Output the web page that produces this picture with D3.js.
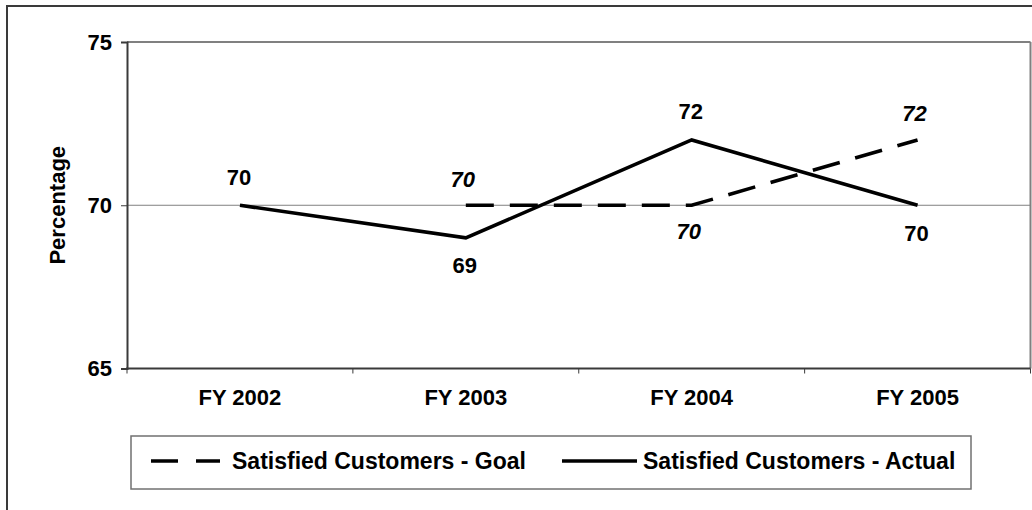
<!DOCTYPE html>
<html>
<head>
<meta charset="utf-8">
<script src="https://cdn.jsdelivr.net/npm/d3@7"></script>
<style>
  html, body { margin: 0; padding: 0; background: #fff; }
  svg { display: block; font-family: "Liberation Sans", Arial, sans-serif; font-weight: bold; }
</style>
</head>
<body>
<svg id="chart" width="1032" height="510"></svg>
<script>
// Fiscal years on the category axis
const categories = ["FY 2002", "FY 2003", "FY 2004", "FY 2005"];
// Satisfied customers, percent
const goalValues = [null, 70, 70, 72];
const actualValues = [70, 69, 72, 70];
// Value axis ticks
const yTicks = [65, 70, 75];
const seriesNames = ["Satisfied Customers - Goal", "Satisfied Customers - Actual"];

const svg = d3.select("#chart");

const plot = { left: 127, right: 1030.5, top: 42, bottom: 368.5 };
const labelSize = 22;

const x = d3.scaleBand().domain(categories).range([plot.left, plot.right]);
const cx = c => x(c) + x.bandwidth() / 2;
const y = d3.scaleLinear().domain([65, 75]).range([plot.bottom, plot.top]);

// Outer frame
svg.append("rect")
  .attr("x", 7).attr("y", 6).attr("width", 1040).attr("height", 520)
  .attr("fill", "none").attr("stroke", "#3a3a3a").attr("stroke-width", 2);

// Plot area: light top/right edges
svg.append("line").attr("x1", plot.left).attr("x2", plot.right)
  .attr("y1", y(75)).attr("y2", y(75)).attr("stroke", "#808080").attr("stroke-width", 2);
svg.append("line").attr("x1", plot.right).attr("x2", plot.right)
  .attr("y1", plot.top).attr("y2", plot.bottom).attr("stroke", "#808080").attr("stroke-width", 2);

// Horizontal gridline at 70
svg.append("g").selectAll("line")
  .data(yTicks.filter(t => t !== 65 && t !== 75))
  .join("line")
  .attr("x1", plot.left).attr("x2", plot.right)
  .attr("y1", d => y(d)).attr("y2", d => y(d))
  .attr("stroke", "#808080").attr("stroke-width", 1);

// Y axis
const yAxis = svg.append("g")
  .attr("transform", `translate(${plot.left},0)`)
  .call(d3.axisLeft(y).tickValues(yTicks).tickSize(6).tickPadding(9).tickFormat(d3.format("d")));
yAxis.select(".domain").attr("stroke", "#3a3a3a").attr("stroke-width", 2);
yAxis.selectAll(".tick line").attr("stroke", "#3a3a3a").attr("stroke-width", 1);
yAxis.selectAll(".tick text")
  .attr("font-size", labelSize).attr("font-weight", "bold")
  .attr("font-family", "Liberation Sans, Arial, sans-serif").attr("fill", "#000");

// X axis: labels at category centres, ticks at category boundaries
const xAxis = svg.append("g")
  .attr("transform", `translate(0,${plot.bottom})`)
  .call(d3.axisBottom(x).tickSize(0).tickPadding(21));
xAxis.select(".domain").remove();
xAxis.selectAll(".tick text")
  .attr("font-size", labelSize).attr("font-weight", "bold")
  .attr("font-family", "Liberation Sans, Arial, sans-serif").attr("fill", "#000");

svg.append("line").attr("x1", plot.left - 1).attr("x2", plot.right)
  .attr("y1", plot.bottom).attr("y2", plot.bottom)
  .attr("stroke", "#3a3a3a").attr("stroke-width", 2);

const boundaries = categories.map(c => x(c)).concat([plot.right]);
svg.append("g").selectAll("line")
  .data(boundaries)
  .join("line")
  .attr("x1", d => d).attr("x2", d => d)
  .attr("y1", plot.bottom).attr("y2", plot.bottom + 5)
  .attr("stroke", "#3a3a3a").attr("stroke-width", 1);

// Y axis title
svg.append("text")
  .attr("transform", `translate(57,${(plot.top + plot.bottom) / 2}) rotate(-90)`)
  .attr("text-anchor", "middle").attr("dominant-baseline", "central")
  .attr("font-size", labelSize).attr("fill", "#000")
  .text("Percentage");

// Series lines
const pts = vals => categories.map((c, i) => ({ c, v: vals[i], i })).filter(d => d.v != null);
const line = d3.line().x(d => cx(d.c)).y(d => y(d.v));

const goalPts = pts(goalValues);
const actualPts = pts(actualValues);

svg.append("path").datum(goalPts)
  .attr("d", line).attr("fill", "none")
  .attr("stroke", "#000").attr("stroke-width", 3.6)
  .attr("stroke-dasharray", "28,16");

svg.append("path").datum(actualPts)
  .attr("d", line).attr("fill", "none")
  .attr("stroke", "#000").attr("stroke-width", 3.6);

// Value labels: the higher of the two series goes above, the lower below
function side(d, other) {
  const o = other[d.i];
  if (o == null) return -1;
  return d.v >= o ? -1 : 1;
}

svg.append("g").selectAll("text")
  .data(goalPts)
  .join("text")
  .attr("x", d => cx(d.c) - 3)
  .attr("y", d => y(d.v) + side(d, actualValues) * 26)
  .attr("text-anchor", "middle").attr("dominant-baseline", "central")
  .attr("font-size", labelSize).attr("font-style", "italic").attr("fill", "#000")
  .text(d => d.v);

svg.append("g").selectAll("text")
  .data(actualPts)
  .join("text")
  .attr("x", d => cx(d.c) - 1)
  .attr("y", d => y(d.v) + side(d, goalValues) * 28)
  .attr("text-anchor", "middle").attr("dominant-baseline", "central")
  .attr("font-size", labelSize).attr("fill", "#000")
  .text(d => d.v);

// Legend
const legend = svg.append("g");
legend.append("rect")
  .attr("x", 131).attr("y", 436).attr("width", 840).attr("height", 53)
  .attr("fill", "#fff").attr("stroke", "#707070").attr("stroke-width", 1.5);

const legendItems = [
  { name: seriesNames[0], dash: "27,18", x0: 151, x1: 220, tx: 232 },
  { name: seriesNames[1], dash: null, x0: 562, x1: 637, tx: 643 }
];
legendItems.forEach(it => {
  legend.append("line")
    .attr("x1", it.x0).attr("x2", it.x1).attr("y1", 461).attr("y2", 461)
    .attr("stroke", "#000").attr("stroke-width", 3.6)
    .attr("stroke-dasharray", it.dash);
  legend.append("text")
    .attr("x", it.tx).attr("y", 461)
    .attr("dominant-baseline", "central")
    .attr("font-size", 23).attr("fill", "#000")
    .text(it.name);
});
</script>
</body>
</html>
